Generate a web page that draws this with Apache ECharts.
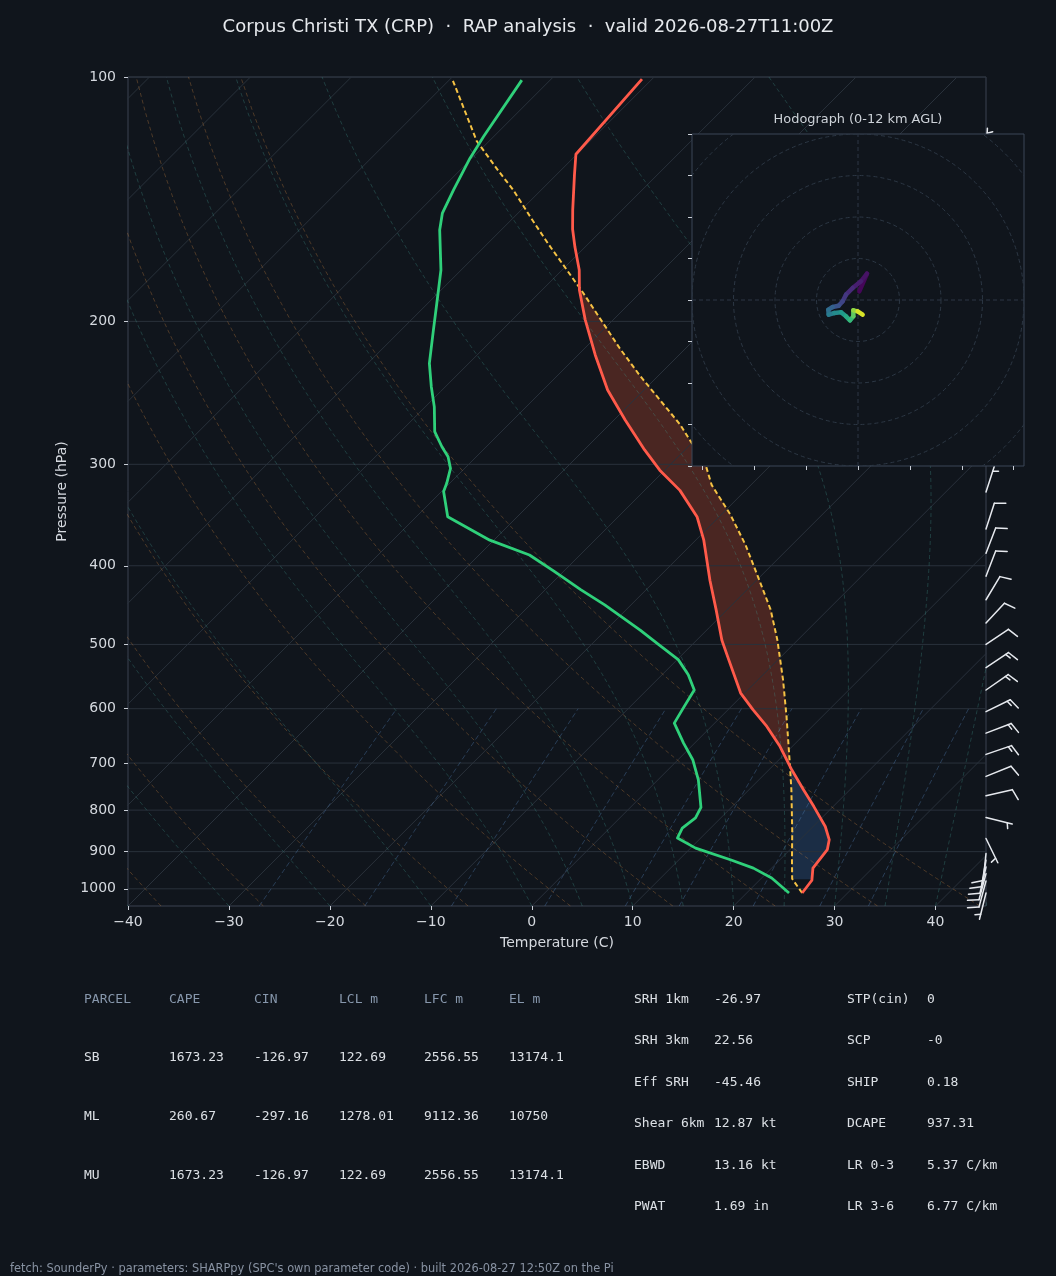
<!DOCTYPE html>
<html>
<head>
<meta charset="utf-8">
<title>CRP RAP sounding</title>
<script src="https://cdn.jsdelivr.net/npm/echarts@6.0.0/dist/echarts.min.js"></script>
<style>
  html, body { margin: 0; padding: 0; background: #10151c; }
  #chart { width: 1056px; height: 1276px; }
</style>
</head>
<body>
<div id="chart"></div>
<script>
// sounding (hPa / degC)
var tPres = [1012, 976, 943, 895, 870, 838, 792, 755, 714, 668, 631, 602, 574, 522, 494, 453, 417, 372, 348, 323, 305, 288, 264.5, 243, 220, 199, 183, 172.9, 162, 154, 145.8, 132, 124.5, 100.6];
var tVals = [25.5, 25.2, 24.1, 23.7, 22.9, 21.2, 18.1, 15.4, 12.3, 8.8, 5.5, 2.5, -0.4, -4.9, -7.5, -11.1, -14.6, -19.2, -22.2, -26.5, -30.5, -34.0, -38.9, -43.6, -48.3, -52.8, -56.3, -58.3, -61.0, -63.0, -64.9, -68.2, -70.1, -71.0];

var tdPres = [1012, 970, 943, 921, 891, 866, 842, 818, 794, 734, 694, 661.5, 625, 599, 569, 545, 522, 501, 480, 447, 428, 407, 388, 372, 348, 324, 316.6, 303.5, 293.6, 285.4, 273.5, 254.9, 240.7, 225.3, 205, 190.1, 172.9, 154.3, 147.1, 137.7, 125.9, 118.4, 100.9];
var tdVals = [24.2, 21.0, 18.2, 15.1, 10.5, 7.7, 7.2, 7.5, 7.0, 4.0, 1.5, -1.1, -4.0, -4.6, -5.3, -7.4, -9.9, -13.2, -16.6, -22.6, -26.5, -30.8, -35.0, -40.4, -46.9, -49.8, -50.3, -51.4, -52.8, -54.4, -56.6, -59.1, -61.4, -63.9, -66.8, -69.1, -72.0, -76.1, -77.5, -78.7, -80.2, -81.0, -82.8];

// surface parcel
var parPres = [1012, 972, 921, 847, 755, 700, 614, 553, 494, 453, 417, 377, 346, 318, 301, 268, 233, 216, 184, 160.7, 149, 137.7, 131, 120, 101];
var parVals = [25.5, 23.1, 21.2, 18.3, 14.2, 11.4, 6.5, 2.5, -2.0, -5.7, -9.7, -14.6, -19.1, -23.9, -26.4, -33.0, -41.9, -46.5, -55.8, -63.9, -68.3, -72.8, -75.9, -81.2, -89.6];

// hodograph trace (u, v) and height (km)
var hodoU = [0.32, 2.17, 0.72, -1.29, -2.89, -3.69, -4.66, -6.10, -7.15, -7.07, -5.70, -4.10, -2.89, -1.93, -1.12, -1.12, -0.08, 1.12];
var hodoV = [2.09, 6.35, 4.50, 2.89, 1.29, -0.32, -1.37, -1.69, -2.33, -3.53, -3.13, -2.97, -3.94, -4.90, -3.94, -2.49, -2.73, -3.53];
var hodoHgt = [0, 0.4, 0.8, 1.2, 1.7, 2.2, 2.8, 3.4, 4.0, 4.7, 5.4, 6.1, 6.8, 7.6, 8.5, 9.5, 10.6, 12];

// wind barbs (hPa, deg, kt)
var barbPres = [124.8, 324.5, 360.4, 386, 412, 440.5, 470.5, 500, 534, 569, 605, 643, 683, 727, 768, 817, 867, 905, 922, 940, 958, 978, 1012];
var barbDir = [3, 18, 18, 21, 21, 31, 43, 56, 56, 55, 64, 69, 71, 68, 77, 104, 154, 186, 190, 193, 195, 195, 194];
var barbSpd = [5, 5, 10, 10, 10, 10, 10, 10, 15, 15, 15, 15, 15, 10, 10, 5, 5, 10, 10, 10, 10, 10, 5];

var presTicks = [100, 200, 300, 400, 500, 600, 700, 800, 900, 1000];
var tempTicks = [-40, -30, -20, -10, 0, 10, 20, 30, 40];
var isoTemps = [-120, -110, -100, -90, -80, -70, -60, -50, -40, -30, -20, -10, 0, 10, 20, 30, 40];
var dryT0 = [-40, -30, -20, -10, 0, 10, 20, 30, 40];
var moistT0 = [-40, -30, -20, -10, 0, 5, 10, 15, 20, 25, 30, 35, 40, 45];
var mixRatios = [0.0004, 0.001, 0.002, 0.004, 0.007, 0.01, 0.016, 0.024, 0.032];
var hodoRings = [10, 20, 30, 40, 50];
var hodoXTicks = [-37.5, -25, -12.5, 0, 12.5, 25, 37.5];

// parameter table
var parcelHdr = ['PARCEL', 'CAPE', 'CIN', 'LCL m', 'LFC m', 'EL m'];
var parcelRows = [
  ['SB', '1673.23', '-126.97', '122.69', '2556.55', '13174.1'],
  ['ML', '260.67', '-297.16', '1278.01', '9112.36', '10750'],
  ['MU', '1673.23', '-126.97', '122.69', '2556.55', '13174.1']
];
var idxNames = ['SRH 1km', 'SRH 3km', 'Eff SRH', 'Shear 6km', 'EBWD', 'PWAT'];
var idxVals = ['-26.97', '22.56', '-45.46', '12.87 kt', '13.16 kt', '1.69 in'];
var idx2Names = ['STP(cin)', 'SCP', 'SHIP', 'DCAPE', 'LR 0-3', 'LR 3-6'];
var idx2Vals = ['0', '-0', '0.18', '937.31', '5.37 C/km', '6.77 C/km'];

var BG = '#10151c';
var P_BOT = 1050, P_TOP = 100, X_MIN = -40, X_MAX = 45;
var G = {left: 128, top: 77, width: 858, height: 829};
var FONT = "'DejaVu Sans', 'Noto Sans', sans-serif";
var MONO = "'DejaVu Sans Mono', 'Liberation Mono', monospace";

// 45 degree skew in screen space
function skew(p) {
  return Math.log10(P_BOT / p) / Math.log10(P_BOT / P_TOP) * (X_MAX - X_MIN) * G.height / G.width;
}
function pt(T, p) { return [T + skew(p), Math.log10(p)]; }

function interpLogP(pres, vals, p) {
  for (var i = 0; i < pres.length - 1; i++) {
    if (p <= pres[i] && p >= pres[i + 1]) {
      var f = Math.log(p / pres[i]) / Math.log(pres[i + 1] / pres[i]);
      return vals[i] + f * (vals[i + 1] - vals[i]);
    }
  }
  return null;
}

// polygons between parcel and environment where sign*(parcel-env) > 0
function shadeBetween(pBot, pTop, sign) {
  var lev = [pBot, pTop];
  tPres.concat(parPres).forEach(function (p) { if (p < pBot && p > pTop) lev.push(p); });
  lev.sort(function (a, b) { return b - a; });
  var polys = [], cur = null, prev = null;
  lev.forEach(function (p) {
    var tp = interpLogP(parPres, parVals, p), te = interpLogP(tPres, tVals, p);
    var d = sign * (tp - te);
    if (prev && (prev.d > 0) !== (d > 0)) {
      var f = prev.d / (prev.d - d);
      var pc = Math.exp(Math.log(prev.p) + f * (Math.log(p) - Math.log(prev.p)));
      var tc = prev.tp + f * (tp - prev.tp);
      var c = {p: pc, tp: tc, te: tc};
      if (cur) { cur.push(c); polys.push(cur); cur = null; } else { cur = [c]; }
    }
    if (d > 0) { if (!cur) cur = []; cur.push({p: p, tp: tp, te: te}); }
    prev = {p: p, tp: tp, te: te, d: d};
  });
  if (cur) polys.push(cur);
  return polys.map(function (seg) {
    var a = seg.map(function (s) { return pt(s.tp, s.p); });
    var b = seg.slice().reverse().map(function (s) { return pt(s.te, s.p); });
    return a.concat(b);
  });
}

// thermo for the reference lines
var Rd = 287.04749, Cp = 1004.666, Lv = 2.50084e6, EPS = 0.6219569;
function satVap(Tk) { var c = Tk - 273.15; return 6.112 * Math.exp(17.67 * c / (c + 243.5)); }
function moistGrad(p, Tk) {
  var es = satVap(Tk), rs = EPS * es / (p - es);
  return (Rd * Tk + Lv * rs) / (Cp + Lv * Lv * rs * EPS / (Rd * Tk * Tk)) / p;
}
function moistLine(t0) {
  var T = t0 + 273.15, p = P_BOT, dp = -5, out = [pt(t0, p)];
  while (p > P_TOP + 0.01) {
    var k1 = moistGrad(p, T), k2 = moistGrad(p + dp / 2, T + dp / 2 * k1);
    var k3 = moistGrad(p + dp / 2, T + dp / 2 * k2), k4 = moistGrad(p + dp, T + dp * k3);
    T += dp / 6 * (k1 + 2 * k2 + 2 * k3 + k4);
    p += dp;
    out.push(pt(T - 273.15, p));
  }
  return out;
}
function dryLine(t0) {
  var out = [];
  for (var p = P_BOT; p >= P_TOP; p -= 10) out.push(pt((t0 + 273.15) * Math.pow(p / 1000, Rd / Cp) - 273.15, p));
  return out;
}
function mixLine(w) {
  var out = [];
  for (var p = P_BOT; p >= 600; p -= 25) {
    var a = Math.log(p * w / (EPS + w) / 6.112);
    out.push(pt(243.5 * a / (17.67 - a), p));
  }
  return out;
}

var viridis = ['#440154', '#482878', '#3e4989', '#31688e', '#26828e', '#1f9e89', '#35b779', '#6ece58', '#b5de2b', '#fde725'];
function cmap(f) {
  f = Math.max(0, Math.min(1, f)) * (viridis.length - 1);
  var i = Math.min(Math.floor(f), viridis.length - 2), t = f - i;
  function h(s, k) { return parseInt(s.substr(1 + 2 * k, 2), 16); }
  var c = [0, 1, 2].map(function (k) { return Math.round(h(viridis[i], k) + t * (h(viridis[i + 1], k) - h(viridis[i], k))); });
  return 'rgb(' + c.join(',') + ')';
}

var series = [];
function refLine(data, color, dash, width) {
  series.push({
    type: 'line', xAxisIndex: 0, yAxisIndex: 0, data: data, symbol: 'none', silent: true,
    animation: false, z: 1, lineStyle: {color: color, width: width || 1, type: dash || 'solid'}
  });
}
isoTemps.forEach(function (t) { refLine([pt(t, P_BOT), pt(t, P_TOP)], '#29313b'); });
presTicks.forEach(function (p) { refLine([[X_MIN, Math.log10(p)], [X_MAX, Math.log10(p)]], '#29313b'); });
dryT0.forEach(function (t) { refLine(dryLine(t), 'rgba(196,128,64,0.34)', [4, 3]); });
moistT0.forEach(function (t) { refLine(moistLine(t), 'rgba(70,160,150,0.3)', [4, 3]); });
mixRatios.forEach(function (w) { refLine(mixLine(w), 'rgba(90,140,200,0.34)', [5, 3]); });

var capePolys = shadeBetween(900, 150, 1);
var cinPolys = shadeBetween(973, 650, -1);
function fillSeries(polys, color) {
  return {
    type: 'custom', xAxisIndex: 0, yAxisIndex: 0, clip: true, silent: true, animation: false, z: 1,
    data: polys.map(function (q, i) { return [0, 2.5, i]; }),
    renderItem: function (params, api) {
      var pts = polys[params.dataIndex].map(function (q) { return api.coord(q); });
      return {type: 'polygon', shape: {points: pts}, style: {fill: color, stroke: null}};
    }
  };
}
series.push(fillSeries(capePolys, 'rgba(232,84,52,0.27)'));
series.push(fillSeries(cinPolys, 'rgba(70,130,220,0.22)'));

function profile(pres, vals, color, width, dash) {
  series.push({
    type: 'line', xAxisIndex: 0, yAxisIndex: 0, symbol: 'none', silent: true, animation: false, z: 2,
    data: vals.map(function (v, i) { return pt(v, pres[i]); }),
    lineStyle: {color: color, width: width, type: dash || 'solid', join: 'round'}
  });
}
profile(parPres, parVals, '#f5c244', 2, [5, 3]);
profile(tdPres, tdVals, '#2fd07a', 2.8);
profile(tPres, tVals, '#ff5a4a', 2.8);

// wind barbs along the right edge
series.push({
  type: 'custom', xAxisIndex: 0, yAxisIndex: 0, clip: false, silent: true, animation: false, z: 3,
  data: barbPres.map(function (p, i) { return [X_MAX, Math.log10(p), barbDir[i], barbSpd[i]]; }),
  renderItem: function (params, api) {
    var base = api.coord([X_MAX, api.value(1)]);
    var dir = api.value(2) * Math.PI / 180, spd = api.value(3);
    var L = 27, FULL = 11.5, SP = 3.4, LEAN = 72 * Math.PI / 180;
    var ux = Math.sin(dir), uy = -Math.cos(dir);
    var fx = Math.sin(dir + LEAN), fy = -Math.cos(dir + LEAN);
    var st = {stroke: '#e6e9ee', lineWidth: 1.5, lineCap: 'round'};
    function seg(a, b) { return {type: 'line', shape: {x1: a[0], y1: a[1], x2: b[0], y2: b[1]}, style: st}; }
    var kids = [seg(base, [base[0] + ux * L, base[1] + uy * L])];
    var nFull = Math.floor(spd / 10), half = spd % 10 >= 5, off = L, r;
    for (var k = 0; k < nFull; k++) {
      r = [base[0] + ux * off, base[1] + uy * off];
      kids.push(seg(r, [r[0] + fx * FULL, r[1] + fy * FULL]));
      off -= SP;
    }
    if (half) {
      if (nFull === 0) off -= 1.5 * SP;
      r = [base[0] + ux * off, base[1] + uy * off];
      kids.push(seg(r, [r[0] + fx * FULL / 2, r[1] + fy * FULL / 2]));
    }
    return {type: 'group', children: kids};
  }
});

// hodograph inset
series.push({
  type: 'custom', xAxisIndex: 1, yAxisIndex: 1, clip: true, silent: true, animation: false, z: 12,
  data: hodoRings.map(function (r) { return [0, 0, r]; }),
  renderItem: function (params, api) {
    var c = api.coord([0, 0]), rr = api.size([api.value(2), 0])[0];
    return {type: 'circle', shape: {cx: c[0], cy: c[1], r: rr}, style: {fill: null, stroke: '#2c3744', lineWidth: 1, lineDash: [4, 3]}};
  }
});
[[[-40, 0], [40, 0]], [[0, -40], [0, 40]]].forEach(function (d) {
  series.push({type: 'line', xAxisIndex: 1, yAxisIndex: 1, data: d, symbol: 'none', silent: true, animation: false, z: 12,
    lineStyle: {color: '#2c3744', width: 1, type: [4, 3]}});
});
series.push({
  type: 'custom', xAxisIndex: 1, yAxisIndex: 1, clip: true, silent: true, animation: false, z: 13,
  data: hodoU.slice(0, -1).map(function (u, i) { return [u, hodoV[i], i]; }),
  renderItem: function (params, api) {
    var i = params.dataIndex;
    var a = api.coord([hodoU[i], hodoV[i]]), b = api.coord([hodoU[i + 1], hodoV[i + 1]]);
    var col = cmap((hodoHgt[i] + hodoHgt[i + 1]) / 2 / 12);
    return {type: 'line', shape: {x1: a[0], y1: a[1], x2: b[0], y2: b[1]}, style: {stroke: col, lineWidth: 4.5, lineCap: 'round'}};
  }
});

// text blocks
var graphics = [];
function txt(s, x, y, font, color, align) {
  graphics.push({type: 'text', x: x, y: y, silent: true, z: 20,
    style: {text: s, font: font, fill: color, align: align || 'left', verticalAlign: 'middle',
      textAlign: align || 'left', textVerticalAlign: 'middle'}});
}
txt('Corpus Christi TX (CRP)  \u00b7  RAP analysis  \u00b7  valid 2026-08-27T11:00Z', 528, 27, '18px ' + FONT, '#e6e9ed', 'center');
txt('Hodograph (0-12 km AGL)', 858, 120, '12.9px ' + FONT, '#cdd2d8', 'center');
var colX = [84, 169, 254, 339, 424, 509], rowY = [1000, 1058, 1117, 1176];
parcelHdr.forEach(function (h, j) { txt(h, colX[j], rowY[0], '13px ' + MONO, '#8797ac'); });
parcelRows.forEach(function (row, i) {
  row.forEach(function (v, j) { txt(v, colX[j], rowY[i + 1], '13px ' + MONO, '#dce0e5'); });
});
var rY = [1000, 1041, 1083, 1124, 1166, 1207];
idxNames.forEach(function (n, i) {
  txt(n, 634, rY[i], '13px ' + MONO, '#dce0e5');
  txt(idxVals[i], 714, rY[i], '13px ' + MONO, '#dce0e5');
  txt(idx2Names[i], 847, rY[i], '13px ' + MONO, '#dce0e5');
  txt(idx2Vals[i], 927, rY[i], '13px ' + MONO, '#dce0e5');
});
txt('fetch: SounderPy \u00b7 parameters: SHARPpy (SPC\'s own parameter code) \u00b7 built 2026-08-27 12:50Z on the Pi', 10, 1269, '11.4px ' + FONT, '#8892a2');

var logTicks = presTicks.map(function (p) { return Math.log10(p); });
var lbl = {color: '#d5d9df', fontSize: 14, fontFamily: FONT};

var chart = echarts.init(document.getElementById('chart'), null, {renderer: 'canvas'});
chart.setOption({
  backgroundColor: BG,
  animation: false,
  grid: [
    {left: G.left, top: G.top, width: G.width, height: G.height, show: true, borderColor: '#3a4350', borderWidth: 1,
      backgroundColor: 'transparent', outerBoundsMode: 'none', containLabel: false},
    {left: 692, top: 134, width: 332, height: 332, show: true, borderColor: '#3a4656', borderWidth: 1,
      backgroundColor: BG, z: 10, outerBoundsMode: 'none', containLabel: false}
  ],
  xAxis: [
    {type: 'value', gridIndex: 0, min: X_MIN, max: X_MAX, position: 'bottom',
      axisLine: {show: false, onZero: false}, splitLine: {show: false},
      axisTick: {show: true, length: 4, customValues: tempTicks, lineStyle: {color: '#c9ced6'}},
      axisLabel: {show: true, margin: 9, customValues: tempTicks, color: lbl.color, fontSize: 14, fontFamily: FONT,
        formatter: function (v) { return v < 0 ? '\u2212' + Math.abs(v) : String(v); }},
      name: 'Temperature (C)', nameLocation: 'middle', nameGap: 30, nameTextStyle: lbl},
    {type: 'value', gridIndex: 1, min: -40, max: 40, z: 11, position: 'bottom',
      axisLine: {show: false, onZero: false}, splitLine: {show: false}, axisLabel: {show: false},
      axisTick: {show: true, length: 4, customValues: hodoXTicks, lineStyle: {color: '#c9ced6'}}}
  ],
  yAxis: [
    {type: 'value', gridIndex: 0, min: Math.log10(P_TOP), max: Math.log10(P_BOT), inverse: true, position: 'left',
      axisLine: {show: false, onZero: false}, splitLine: {show: false},
      axisTick: {show: true, length: 4, customValues: logTicks, lineStyle: {color: '#c9ced6'}},
      axisLabel: {show: true, margin: 12, customValues: logTicks, color: lbl.color, fontSize: 14, fontFamily: FONT,
        formatter: function (v) { return String(Math.round(Math.pow(10, v))); }},
      name: 'Pressure (hPa)', nameLocation: 'middle', nameRotate: 90, nameGap: 58, nameTextStyle: lbl},
    {type: 'value', gridIndex: 1, min: -40, max: 40, interval: 10, z: 11, position: 'left',
      axisLine: {show: false, onZero: false}, splitLine: {show: false}, axisLabel: {show: false},
      axisTick: {show: true, length: 4, lineStyle: {color: '#c9ced6'}}}
  ],
  series: series,
  graphic: graphics
});
</script>
</body>
</html>
